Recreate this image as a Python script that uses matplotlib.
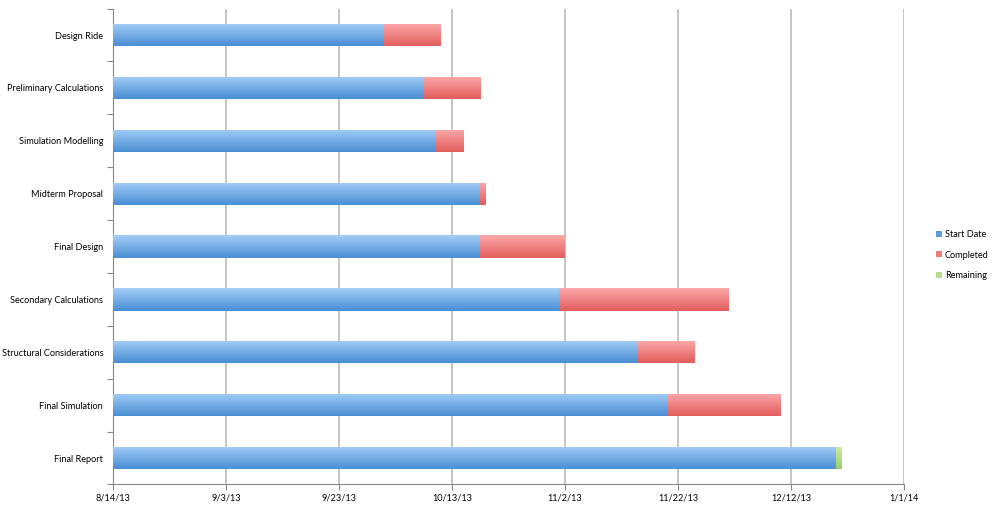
import matplotlib
matplotlib.use("Agg")
import matplotlib.pyplot as plt
import matplotlib.dates as mdates
import numpy as np
from matplotlib.colors import LinearSegmentedColormap
from datetime import datetime

tasks = ["Design Ride", "Preliminary Calculations", "Simulation Modelling",
         "Midterm Proposal", "Final Design", "Secondary Calculations",
         "Structural Considerations", "Final Simulation", "Final Report"]
start_dates = ["2013-10-01", "2013-10-08", "2013-10-10", "2013-10-18", "2013-10-18",
               "2013-11-01", "2013-11-15", "2013-11-20", "2013-12-20"]
completed_days = [10, 10, 5, 1, 15, 30, 10, 20, 0]
remaining_days = [0, 0, 0, 0, 0, 0, 0, 0, 1]
axis_min = "2013-08-14"
axis_max = "2014-01-01"
tick_step_days = 20

plt.rcParams['font.family'] = ['Lato', 'DejaVu Sans']

fig = plt.figure(figsize=(9.97, 5.07), dpi=100)
ax = fig.add_axes([0.1133, 0.0444, 0.7934, 0.9386])

xmin = mdates.date2num(datetime.fromisoformat(axis_min))
xmax = mdates.date2num(datetime.fromisoformat(axis_max))
starts = np.array([mdates.date2num(datetime.fromisoformat(s)) for s in start_dates])
comp = np.array(completed_days, dtype=float)
rem = np.array(remaining_days, dtype=float)

y = np.arange(len(tasks))[::-1]
h = 0.42

grads = {
    "Start Date": ("#a3cdf7", "#4a8fd4", "#5b9de0"),
    "Completed": ("#fba9a9", "#e35d5d", "#ef7b7b"),
    "Remaining": ("#cdeea8", "#9ccc6a", "#b3dd88"),
}

b1 = ax.barh(y, starts - xmin, left=xmin, height=h, color=grads["Start Date"][2], label="Start Date", zorder=3)
b2 = ax.barh(y, comp, left=starts, height=h, color=grads["Completed"][2], label="Completed", zorder=3)
b3 = ax.barh(y, rem, left=starts + comp, height=h, color=grads["Remaining"][2], label="Remaining", zorder=3)

grad = np.linspace(0, 1, 64).reshape(-1, 1)
for bars, key in ((b1, "Start Date"), (b2, "Completed"), (b3, "Remaining")):
    cmap = LinearSegmentedColormap.from_list(key, [grads[key][0], grads[key][1]])
    for p in bars:
        if p.get_width() <= 0:
            continue
        x0, y0 = p.get_x(), p.get_y()
        w, hh = p.get_width(), p.get_height()
        im = ax.imshow(grad, cmap=cmap, aspect="auto",
                       extent=(x0, x0 + w, y0, y0 + hh), origin="upper", zorder=3.5)
        im.set_clip_path(p)
        p.set_edgecolor("none")

ax.set_xlim(xmin, xmax)
ax.set_ylim(-0.5, len(tasks) - 0.5)
ticks = np.arange(xmin, xmax + 0.5, tick_step_days)
ax.set_xticks(ticks)
ax.set_xticklabels([f"{d.month}/{d.day}/{d.strftime('%y')}" for d in mdates.num2date(ticks)])
ax.set_yticks(y)
ax.set_yticklabels(tasks)
ax.set_yticks(np.arange(-0.5, len(tasks), 1), minor=True)
ax.tick_params(axis="y", which="major", length=0, labelsize=6.6, pad=7)
ax.tick_params(axis="y", which="minor", length=4, color="#888888", width=0.8)
ax.tick_params(axis="x", length=4, color="#888888", labelsize=6.6, pad=2.5)

ax.grid(axis="x", color="#bbbbbb", linewidth=1.2, zorder=0)
ax.set_axisbelow(True)
for s in ("top", "right"):
    ax.spines[s].set_visible(False)
ax.spines["left"].set_color("#888888")
ax.spines["bottom"].set_color("#888888")

leg = fig.legend(handles=[b1, b2, b3], labels=["Start Date", "Completed", "Remaining"],
                 loc="center left", bbox_to_anchor=(0.931, 0.497), frameon=False,
                 fontsize=6.6, handlelength=0.6, handleheight=0.6, handletextpad=0.3,
                 labelspacing=1.25)

fig.savefig("out.png", dpi=100)
